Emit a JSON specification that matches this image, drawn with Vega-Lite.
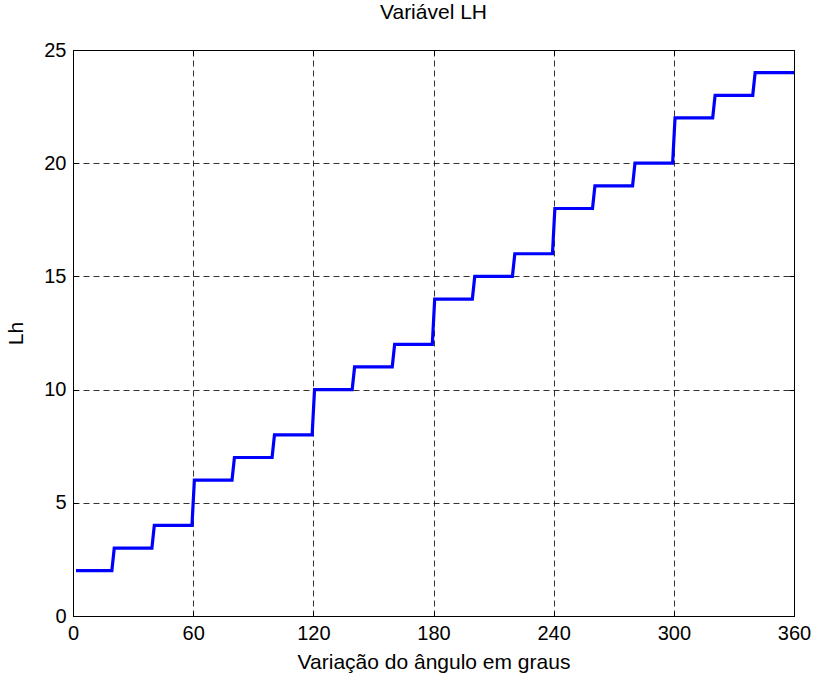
{
  "$schema": "https://vega.github.io/schema/vega-lite/v6.json",
  "width": 721,
  "height": 566,
  "autosize": "none",
  "padding": {"left": 73, "top": 50, "right": 20, "bottom": 58},
  "background": "white",
  "title": {"text": "Variável LH", "fontSize": 21, "fontWeight": "normal", "font": "Liberation Sans", "color": "black", "offset": 17, "anchor": "middle"},
  "config": {
    "view": {"stroke": "black", "strokeWidth": 1},
    "axis": {"labelFont": "Liberation Sans", "titleFont": "Liberation Sans", "labelFontSize": 20, "titleFontSize": 21, "titleFontWeight": "normal", "labelColor": "black", "titleColor": "black", "domainColor": "black", "tickColor": "black", "gridColor": "black", "gridDash": [6, 4], "gridOpacity": 0.8, "gridWidth": 1}
  },
  "data": {"values": [
    {"x": 1.5, "y": 2}, {"x": 19.4, "y": 2}, {"x": 20.6, "y": 3},
    {"x": 39.4, "y": 3}, {"x": 40.6, "y": 4},
    {"x": 59.4, "y": 4}, {"x": 60.6, "y": 6},
    {"x": 79.4, "y": 6}, {"x": 80.6, "y": 7},
    {"x": 99.4, "y": 7}, {"x": 100.6, "y": 8},
    {"x": 119.4, "y": 8}, {"x": 120.6, "y": 10},
    {"x": 139.4, "y": 10}, {"x": 140.6, "y": 11},
    {"x": 159.4, "y": 11}, {"x": 160.6, "y": 12},
    {"x": 179.4, "y": 12}, {"x": 180.6, "y": 14},
    {"x": 199.4, "y": 14}, {"x": 200.6, "y": 15},
    {"x": 219.4, "y": 15}, {"x": 220.6, "y": 16},
    {"x": 239.4, "y": 16}, {"x": 240.6, "y": 18},
    {"x": 259.4, "y": 18}, {"x": 260.6, "y": 19},
    {"x": 279.4, "y": 19}, {"x": 280.6, "y": 20},
    {"x": 299.4, "y": 20}, {"x": 300.6, "y": 22},
    {"x": 319.4, "y": 22}, {"x": 320.6, "y": 23},
    {"x": 339.4, "y": 23}, {"x": 340.6, "y": 24},
    {"x": 360, "y": 24}
  ]},
  "resolve": {"axis": {"x": "independent", "y": "independent"}},
  "layer": [
    {
      "mark": {"type": "line", "color": "#0000FF", "strokeWidth": 3.2, "strokeJoin": "miter"},
      "encoding": {
        "x": {"field": "x", "type": "quantitative", "scale": {"domain": [0, 360], "nice": false, "zero": false},
          "axis": {"orient": "bottom", "values": [0, 60, 120, 180, 240, 300, 360], "title": "Variação do ângulo em graus", "tickSize": -5, "labelPadding": 12, "titlePadding": 8, "labelFlush": false, "labelOverlap": false}},
        "y": {"field": "y", "type": "quantitative", "scale": {"domain": [0, 25], "nice": false},
          "axis": {"orient": "left", "values": [0, 5, 10, 15, 20, 25], "title": "Lh", "tickSize": -5, "labelPadding": 12, "titlePadding": 17, "labelFlush": false, "labelOverlap": false}}
      }
    },
    {
      "mark": {"type": "point", "opacity": 0},
      "encoding": {
        "x": {"field": "x", "type": "quantitative", "scale": {"domain": [0, 360], "nice": false, "zero": false},
          "axis": {"orient": "top", "values": [0, 60, 120, 180, 240, 300, 360], "title": null, "labels": false, "grid": false, "domain": false, "tickSize": -5}},
        "y": {"field": "y", "type": "quantitative", "scale": {"domain": [0, 25], "nice": false},
          "axis": {"orient": "right", "values": [0, 5, 10, 15, 20, 25], "title": null, "labels": false, "grid": false, "domain": false, "tickSize": -5}}
      }
    }
  ]
}
